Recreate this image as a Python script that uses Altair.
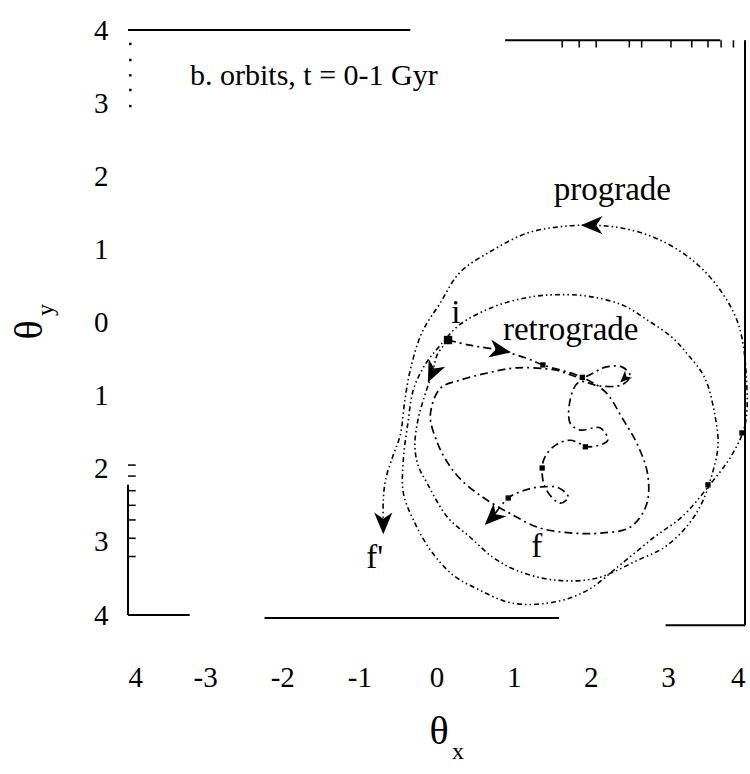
import altair as alt
import pandas as pd

# Prograde orbit, in time order from i to f'
pro_x = [0.15, 0.01, -0.05, -0.15, -0.24, -0.28, -0.24, -0.12, 0.14, 0.43, 0.73, 1.04, 1.51, 2.06,
         2.61, 2.96, 3.26, 3.44, 3.57, 3.65, 3.61, 3.48, 3.26, 3.05, 2.74, 2.41, 1.96, 1.54, 1.17,
         0.73, 0.30, 0.05, -0.15, -0.30, -0.37, -0.43, -0.43, -0.30, -0.08, 0.21, 0.56, 0.99, 1.54,
         1.96, 2.41, 2.83, 3.18, 3.52, 3.83, 4.00, 4.02, 3.91, 3.61, 3.26, 2.83, 2.41, 2.02, 1.60,
         1.17, 0.73, 0.30, 0.05, -0.19, -0.34, -0.41, -0.47, -0.56, -0.66, -0.69, -0.69]
pro_y = [-0.24, -0.44, -0.68, -0.99, -1.33, -1.68, -1.95, -2.20, -2.66, -2.93, -3.21, -3.39, -3.52,
         -3.50, -3.25, -3.07, -2.77, -2.47, -2.09, -1.68, -1.27, -0.76, -0.44, -0.20, 0.03, 0.24,
         0.36, 0.38, 0.34, 0.21, -0.03, -0.31, -0.58, -0.92, -1.37, -1.88, -2.33, -2.70, -3.11,
         -3.45, -3.66, -3.84, -3.82, -3.66, -3.29, -2.93, -2.66, -2.25, -1.81, -1.40, -0.79, -0.01,
         0.54, 0.90, 1.16, 1.29, 1.33, 1.31, 1.22, 0.99, 0.68, 0.27, -0.14, -0.65, -1.06, -1.54,
         -1.81, -2.15, -2.43, -2.70]

# Retrograde orbit, in time order from i to f
ret_x = [0.15, 0.43, 0.82, 1.17, 1.38, 1.89, 2.19, 2.41, 2.61, 2.74, 2.72, 2.51, 2.12, 1.77, 1.34,
         0.95, 0.56, 0.30, 0.14, 0.01, -0.08, 0.05, 0.30, 0.66, 1.04, 1.54, 1.89, 2.19, 2.41, 2.51,
         2.41, 2.12, 1.86, 1.76, 1.73, 1.86, 2.12, 2.22, 1.99, 1.73, 1.54, 1.41, 1.37, 1.41, 1.60,
         1.71, 1.58, 1.34, 1.15, 0.93, 0.73]
ret_y = [-0.24, -0.31, -0.38, -0.49, -0.58, -0.75, -0.95, -1.31, -1.68, -2.09, -2.50, -2.80, -2.88,
         -2.88, -2.81, -2.61, -2.36, -2.13, -1.91, -1.64, -1.27, -0.90, -0.79, -0.69, -0.62, -0.65,
         -0.75, -0.61, -0.61, -0.73, -0.85, -0.87, -0.81, -0.95, -1.37, -1.47, -1.44, -1.61, -1.70,
         -1.61, -1.68, -1.83, -1.99, -2.26, -2.47, -2.39, -2.26, -2.25, -2.29, -2.40, -2.66]

# Direction arrowheads along the orbits (angle clockwise from up)
big_arrow_x = [2.02, -0.05, -0.69, 0.82, 0.73]
big_arrow_y = [1.33, -0.68, -2.74, -0.38, -2.66]
big_arrow_ang = [270, 205, 180, 100, 225]
small_arrow_x = [2.44]
small_arrow_y = [-0.76]
small_arrow_ang = [225]

# Time markers
start_x = [0.15]
start_y = [-0.24]
mark_x = [1.37, 1.93, 3.96, 3.52, 1.38, 1.89, 0.93]
mark_y = [-1.99, -1.70, -1.51, -2.22, -0.58, -0.75, -2.40]

# Orbit labels
lab_text = ["prograde", "retrograde", "i", "f'", "f"]
lab_x = [2.28, 1.74, 0.25, -0.80, 1.30]
lab_y = [1.81, -0.10, 0.13, -3.22, -3.07]

# Frame segments (x1, x2, y1, y2)
frame_x1 = [-4.0, 0.89, 4.0, -4.0, -2.23, 2.97, -4.0]
frame_x2 = [-0.34, 3.68, 4.0, -3.20, 1.59, 4.0, -4.0]
frame_y1 = [4.0, 3.86, 3.86, -4.0, -4.04, -4.14, -2.22]
frame_y2 = [4.0, 3.86, -4.14, -4.0, -4.04, -4.14, -4.0]
top_ticks = [1.63, 1.85, 2.07, 2.50, 2.66, 3.04, 3.31, 3.52, 3.69, 3.85]
left_dots = [3.81, 3.59, 3.38, 3.18, 2.96]
left_ticks = [-1.95, -2.1, -2.3, -2.5, -2.7, -2.95, -3.2]

tick_vals = [-4, -3, -2, -1, 0, 1, 2, 3, 4]

SERIF = "Liberation Serif"
xs = alt.Scale(domain=[-4, 4], nice=False, zero=False)
ys = alt.Scale(domain=[-4, 4], nice=False, zero=False)

x_axis = alt.Axis(values=tick_vals, domain=False, ticks=False, grid=False, title=None,
                  labelFont=SERIF, labelFontSize=29, labelColor="black", labelPadding=48,
                  labelExpr="datum.value == -4 ? '4' : (datum.value < 0 ? '-' + abs(datum.value) : '' + datum.value)")
y_axis = alt.Axis(values=tick_vals, domain=False, ticks=False, grid=False, title=None,
                  labelFont=SERIF, labelFontSize=29, labelColor="black", labelPadding=20,
                  labelExpr="'' + abs(datum.value)")


def X(field, axis=alt.Undefined):
    return alt.X(field, type="quantitative", scale=xs, axis=axis)


def Y(field, axis=alt.Undefined):
    return alt.Y(field, type="quantitative", scale=ys, axis=axis)


pro_df = pd.DataFrame({"x": pro_x, "y": pro_y, "k": range(len(pro_x))})
ret_df = pd.DataFrame({"x": ret_x, "y": ret_y, "k": range(len(ret_x))})
barr_df = pd.DataFrame({"x": big_arrow_x, "y": big_arrow_y, "a": big_arrow_ang})
sarr_df = pd.DataFrame({"x": small_arrow_x, "y": small_arrow_y, "a": small_arrow_ang})
st_df = pd.DataFrame({"x": start_x, "y": start_y})
mk_df = pd.DataFrame({"x": mark_x, "y": mark_y})
lab_df = pd.DataFrame({"x": lab_x, "y": lab_y, "t": lab_text})
fr_df = pd.DataFrame({"x": frame_x1, "x2": frame_x2, "y": frame_y1, "y2": frame_y2})
tt_df = pd.DataFrame({"x": top_ticks, "y": [3.86] * len(top_ticks), "y2": [3.76] * len(top_ticks)})
ld_df = pd.DataFrame({"x": [-3.97] * len(left_dots), "y": left_dots})
lt_df = pd.DataFrame({"x": [-4.0] * len(left_ticks), "x2": [-3.9] * len(left_ticks), "y": left_ticks})

prograde = alt.Chart(pro_df).mark_line(
    color="black", strokeWidth=1.6, strokeDash=[5, 3, 1.5, 3, 1.5, 3], interpolate="catmull-rom"
).encode(x=X("x", x_axis), y=Y("y", y_axis), order="k:Q")

retrograde = alt.Chart(ret_df).mark_line(
    color="black", strokeWidth=1.7, strokeDash=[8, 4, 2, 4], interpolate="catmull-rom"
).encode(x=X("x"), y=Y("y"), order="k:Q")

arrow_shape = "M0,-1L0.8,0.9L0,0.35L-0.8,0.9Z"
big_arrows = alt.Chart(barr_df).mark_point(
    shape=arrow_shape, filled=True, color="black", opacity=1, size=520
).encode(x=X("x"), y=Y("y"), angle=alt.Angle("a:Q", scale=None))
small_arrows = alt.Chart(sarr_df).mark_point(
    shape=arrow_shape, filled=True, color="black", opacity=1, size=160
).encode(x=X("x"), y=Y("y"), angle=alt.Angle("a:Q", scale=None))

start_mark = alt.Chart(st_df).mark_point(shape="square", filled=True, color="black", opacity=1, size=70).encode(
    x=X("x"), y=Y("y")
)
markers = alt.Chart(mk_df).mark_point(shape="square", filled=True, color="black", opacity=1, size=28).encode(
    x=X("x"), y=Y("y")
)

labels = alt.Chart(lab_df).mark_text(font=SERIF, fontSize=33, color="black").encode(
    x=X("x"), y=Y("y"), text="t:N"
)

frame = alt.Chart(fr_df).mark_rule(color="black", strokeWidth=2).encode(
    x=X("x"), x2="x2", y=Y("y"), y2="y2"
)
top_tick_marks = alt.Chart(tt_df).mark_rule(color="black", strokeWidth=1.5).encode(
    x=X("x"), y=Y("y"), y2="y2"
)
left_dot_marks = alt.Chart(ld_df).mark_point(shape="square", filled=True, color="black", size=6, opacity=1).encode(
    x=X("x"), y=Y("y")
)
left_tick_marks = alt.Chart(lt_df).mark_rule(color="black", strokeWidth=1.5).encode(
    x=X("x"), x2="x2", y=Y("y")
)

# Panel title and axis titles (theta with subscripts)
title = alt.Chart(pd.DataFrame({"t": ["b.  orbits, t = 0-1 Gyr"]})).mark_text(
    font=SERIF, fontSize=30, color="black", align="left", baseline="alphabetic"
).encode(x=alt.value(62), y=alt.value(55), text="t:N")

theta_x = alt.Chart(pd.DataFrame({"t": ["θ"]})).mark_text(
    font=SERIF, fontSize=40, color="black", baseline="middle"
).encode(x=alt.value(311), y=alt.value(702), text="t:N")
sub_x = alt.Chart(pd.DataFrame({"t": ["x"]})).mark_text(
    font=SERIF, fontSize=24, color="black", baseline="middle"
).encode(x=alt.value(330), y=alt.value(722), text="t:N")

theta_y = alt.Chart(pd.DataFrame({"t": ["θ"]})).mark_text(
    font=SERIF, fontSize=40, color="black", baseline="middle", angle=270
).encode(x=alt.value(-98), y=alt.value(300), text="t:N")
sub_y = alt.Chart(pd.DataFrame({"t": ["y"]})).mark_text(
    font=SERIF, fontSize=24, color="black", baseline="middle", angle=270
).encode(x=alt.value(-82), y=alt.value(280), text="t:N")

chart = alt.layer(
    prograde, retrograde, frame, top_tick_marks, left_dot_marks, left_tick_marks,
    big_arrows, small_arrows, start_mark, markers, labels, title, theta_x, sub_x, theta_y, sub_y,
).properties(
    width=617, height=585,
    autosize=alt.AutoSizeParams(type="none"),
    padding={"left": 128, "top": 30, "right": 5, "bottom": 159},
    background="white",
).configure_view(stroke=None)

chart.save("out.html", embed_options={"renderer": "svg", "actions": False})
